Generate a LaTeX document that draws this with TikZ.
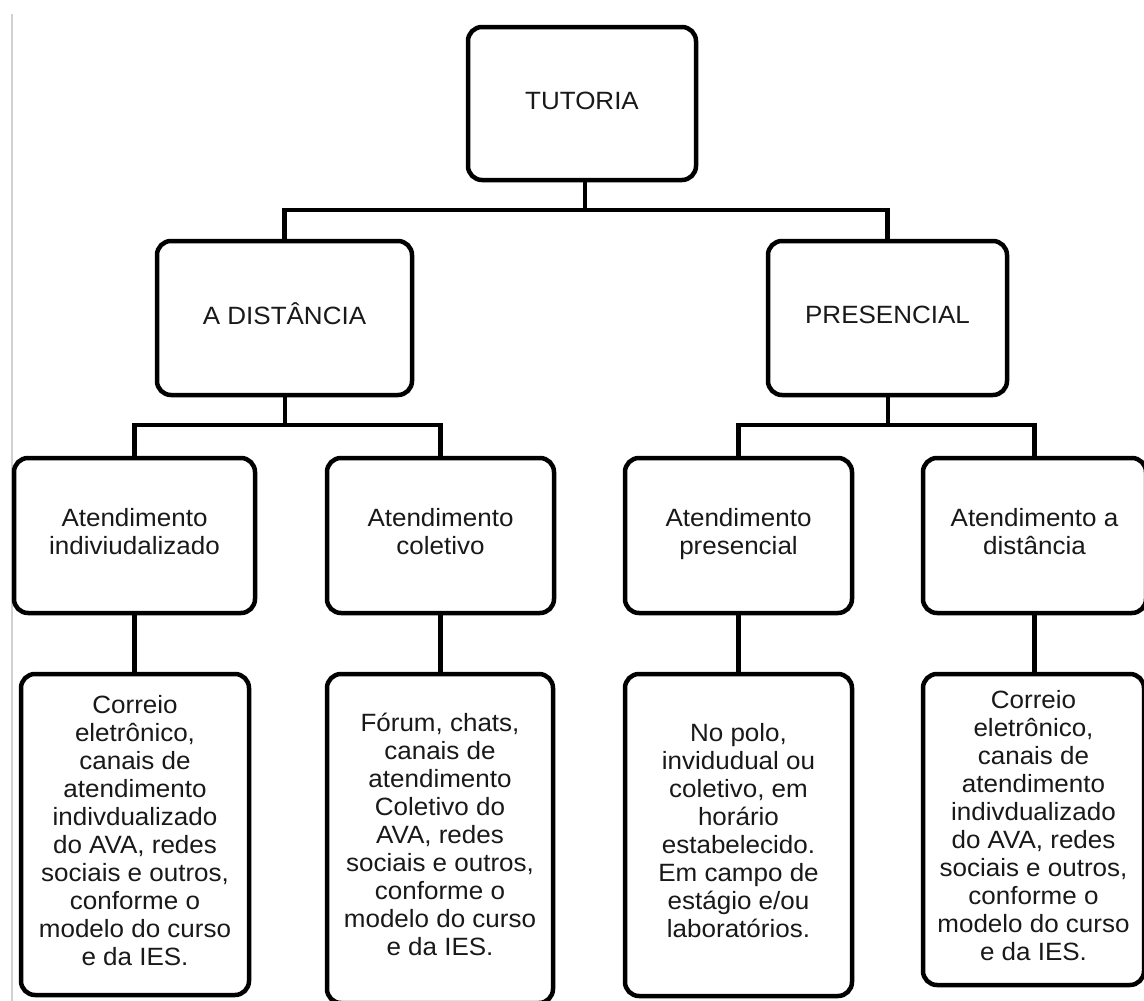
\documentclass[tikz,border=0pt]{standalone}
\usepackage{fontspec}
\setmainfont{Liberation Sans}[FakeStretch=1.04]
\begin{document}
\begin{tikzpicture}[x=1pt,y=-1pt,
  box/.style={draw=black, line width=4.5pt, rounded corners=14pt, fill=white,
    align=center, inner sep=0pt, text=black!90,
    font=\fontsize{25}{28}\selectfont,
    execute at begin node=\strut, execute at end node=\strut},
  conn/.style={draw=black, line width=4.5pt, line join=miter}]
\clip (0,0) rectangle (1144,1001);
\fill[white] (0,0) rectangle (1144,1001);
% thin page margin line
\draw[black!18, line width=2pt] (12,14) -- (12,1001);

% level 1
\node[box, minimum width=228pt, minimum height=153pt] (tut) at (582,103.5) {TUTORIA};
% level 2
\node[box, minimum width=255pt, minimum height=154pt] (dist) at (284.5,318) {A DISTÂNCIA};
\node[box, minimum width=239pt, minimum height=154pt] (pres) at (887.5,318) {PRESENCIAL};
% level 3
\node[box, minimum width=241pt, minimum height=155pt] (a1) at (134.5,535.5) {Atendimento\\indiviudalizado};
\node[box, minimum width=227pt, minimum height=155pt] (a2) at (440.5,535.5) {Atendimento\\coletivo};
\node[box, minimum width=227pt, minimum height=155pt] (a3) at (738.5,535.5) {Atendimento\\presencial};
\node[box, minimum width=223pt, minimum height=155pt] (a4) at (1034.5,535.5) {Atendimento a\\distância};
% level 4
\node[box, minimum width=228pt, minimum height=321pt] (b1) at (135,834.5)
  {Correio\\eletrônico,\\canais de\\atendimento\\indivdualizado\\do AVA, redes\\sociais e outros,\\conforme o\\modelo do curso\\e da IES.};
\node[box, minimum width=226pt, minimum height=329pt] (b2) at (440,838.5)
  {Fórum, chats,\\canais de\\atendimento\\Coletivo do\\AVA, redes\\sociais e outros,\\conforme o\\modelo do curso\\e da IES.};
\node[box, minimum width=227pt, minimum height=322pt] (b3) at (738.5,835)
  {No polo,\\invidudual ou\\coletivo, em\\horário\\estabelecido.\\Em campo de\\estágio e/ou\\laboratórios.};
\node[box, minimum width=221pt, minimum height=311pt] (b4) at (1033.5,829.5)
  {Correio\\eletrônico,\\canais de\\atendimento\\indivdualizado\\do AVA, redes\\sociais e outros,\\conforme o\\modelo do curso\\e da IES.};

% junctions
\coordinate (j1) at (585,210);
\coordinate (j2) at (285,425);
\coordinate (j3) at (888,425);

% connectors
\draw[conn] (tut.south -| j1) -- (j1);
\draw[conn] (dist.north) |- (j1) -| (pres.north);
\draw[conn] (dist.south -| j2) -- (j2);
\draw[conn] (a1.north) |- (j2) -| (a2.north);
\draw[conn] (pres.south -| j3) -- (j3);
\draw[conn] (a3.north) |- (j3) -| (a4.north);
\draw[conn] (a1.south) -- (a1.south |- b1.north);
\draw[conn] (a2.south) -- (a2.south |- b2.north);
\draw[conn] (a3.south) -- (a3.south |- b3.north);
\draw[conn] (a4.south) -- (a4.south |- b4.north);
\end{tikzpicture}
\end{document}
